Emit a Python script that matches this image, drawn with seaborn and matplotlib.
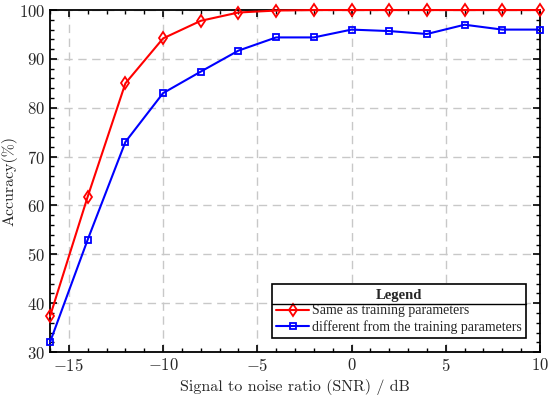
import matplotlib
matplotlib.use("Agg")
import matplotlib.pyplot as plt
import seaborn as sns
import pandas as pd
from matplotlib.lines import Line2D

snr = [-16, -14, -12, -10, -8, -6, -4, -2, 0, 2, 4, 6, 8, 10]
acc_same = [37.3, 61.8, 85.0, 94.2, 97.8, 99.5, 99.9, 100, 100, 100, 100, 100, 100, 100]
acc_diff = [32.0, 53.0, 73.0, 83.0, 87.4, 91.7, 94.4, 94.4, 96.0, 95.7, 95.1, 97.0, 96.0, 96.0]
label_same = "Same as training parameters"
label_diff = "different from the training parameters"

sns.set_style("ticks")
plt.rcParams["font.family"] = ["cmr10", "DejaVu Serif"]
plt.rcParams["mathtext.fontset"] = "cm"
plt.rcParams["axes.formatter.use_mathtext"] = True
plt.rcParams["axes.unicode_minus"] = True

fig = plt.figure(figsize=(5.5, 3.96), dpi=100)
ax = fig.add_axes([0.0909, 0.111, 0.8909, 0.8636])

df = pd.DataFrame({"snr": snr * 2,
                   "acc": acc_same + acc_diff,
                   "series": [label_same] * len(snr) + [label_diff] * len(snr)})

sns.lineplot(data=df[df.series == label_same], x="snr", y="acc", ax=ax, color="#ff0000",
             marker="d", markersize=6.5, markerfacecolor="none", markeredgecolor="#ff0000",
             markeredgewidth=1.3, linewidth=1.5, label=label_same, clip_on=False, zorder=5)
sns.lineplot(data=df[df.series == label_diff], x="snr", y="acc", ax=ax, color="#0000ff",
             marker="s", markersize=5, markerfacecolor="none", markeredgecolor="#0000ff",
             markeredgewidth=1.3, linewidth=1.5, label=label_diff, clip_on=False, zorder=5)

ax.set_xlim(-16, 10)
ax.set_ylim(30, 100)
ax.set_xticks([-15, -10, -5, 0, 5, 10])
ax.set_yticks([30, 40, 50, 60, 70, 80, 90, 100])
ax.set_xticks(range(-16, 11, 1), minor=True)
ax.set_yticks(range(30, 101, 2), minor=True)
ax.tick_params(which="both", direction="in", top=True, right=True, labelsize=12, color="black")
ax.tick_params(which="major", length=5, width=1.2)
ax.tick_params(which="minor", length=3, width=1.0)
ax.grid(True, which="major", linestyle=(0, (6, 4)), color="#c8c8c8", linewidth=1.0)
for s in ax.spines.values():
    s.set_linewidth(1.3)
    s.set_color("black")

ax.set_xlabel("Signal to noise ratio (SNR) / dB", fontsize=11.5)
ax.set_ylabel("Accuracy(%)", fontsize=11.5)
ax.yaxis.set_label_coords(-0.066, 0.5)

leg = ax.legend(loc="lower right", title="Legend", numpoints=1, handlelength=2.4,
                handletextpad=0.2, borderpad=0.3, labelspacing=0.2, fancybox=False,
                framealpha=1, edgecolor="black", borderaxespad=1.0,
                prop={"family": "Liberation Serif", "size": 10},
                title_fontproperties={"family": "Liberation Serif", "size": 10.5, "weight": "bold"})
leg.get_frame().set_linewidth(1.2)
leg.set_zorder(10)

fig.canvas.draw()
r = fig.canvas.get_renderer()
lb = leg.get_window_extent(r)
tb = leg.get_title().get_window_extent(r)
ysep = tb.y0 - 2
inv = fig.transFigure.inverted()
(x0, y0) = inv.transform((lb.x0, ysep))
(x1, _) = inv.transform((lb.x1, ysep))
fig.add_artist(Line2D([x0, x1], [y0, y0], color="black", linewidth=1.0, transform=fig.transFigure, zorder=11))

fig.savefig("out.png", dpi=100)
